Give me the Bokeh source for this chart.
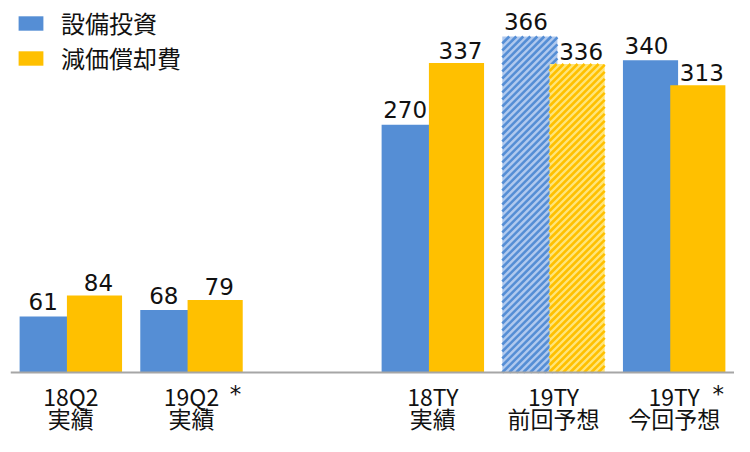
from bokeh.plotting import figure
from bokeh.models import ColumnDataSource, FactorRange, Range1d, Span, Legend, LegendItem
from bokeh.transform import dodge
from bokeh.core.properties import value
from bokeh.embed import file_html
from bokeh.resources import INLINE

# ---- data ----
slots = ["18Q2", "19Q2", "gap", "18TY", "19TY_prev", "19TY_now"]
categories = ["18Q2", "19Q2", "18TY", "19TY_prev", "19TY_now"]
capex = [61, 68, 270, 366, 340]
depreciation = [84, 79, 337, 336, 313]
label_top = ["18Q2", "19Q2", "18TY", "19TY", "19TY"]
label_bottom = ["実績", "実績", "実績", "前回予想", "今回予想"]
starred = [False, True, False, False, True]
previous_forecast = [False, False, False, True, False]
series_names = ["設備投資", "減価償却費"]

BLUE = "#558ED5"
BLUE_LIGHT = "#B0C9EE"
YELLOW = "#FFC000"
YELLOW_LIGHT = "#FFE57A"
TEXT = "#111111"
JP = value("Noto Sans CJK JP")

W_PX, H_PX, LEFT_PX = 734, 436, 10
Y_TOP, Y_BOT = 405.2, -69.7
OFF = 0.196
BW = 0.457

def subset(flag):
    idx = [i for i, f in enumerate(previous_forecast) if f == flag]
    return ColumnDataSource(dict(
        x=[categories[i] for i in idx],
        capex=[capex[i] for i in idx],
        dep=[depreciation[i] for i in idx],
    ))

solid_src = subset(False)
hatch_src = subset(True)
all_src = ColumnDataSource(dict(
    x=categories,
    capex=capex,
    dep=depreciation,
    capex_t=[str(v) for v in capex],
    dep_t=[str(v) for v in depreciation],
    top=label_top,
    bottom=label_bottom,
))
star_src = ColumnDataSource(dict(
    x=[c for c, s in zip(categories, starred) if s],
    t=["*" for s in starred if s],
))

p = figure(width=W_PX, height=H_PX,
           x_range=FactorRange(*slots), y_range=Range1d(Y_BOT, Y_TOP),
           output_backend="svg", toolbar_location=None,
           x_axis_location=None, y_axis_location=None,
           min_border_left=LEFT_PX, min_border_right=0, min_border_top=0, min_border_bottom=0)
p.grid.visible = False
p.outline_line_color = None

# pixel scales of the frame (for 45-degree stripe pattern)
XPX = (W_PX - LEFT_PX) / len(slots)
YPX = H_PX / (Y_TOP - Y_BOT)

def stripes(values, shift, period=7.0):
    x0, y0, x1, y1 = [], [], [], []
    for cat, v, f in zip(categories, values, previous_forecast):
        if not f:
            continue
        center = slots.index(cat) + 0.5 + shift
        left = center - BW / 2
        W = BW * XPX
        H = v * YPX
        c = -H
        while c < W:
            u0, u1 = max(0.0, c), min(W, H + c)
            if u1 > u0:
                x0.append(left + u0 / XPX); y0.append((u0 - c) / YPX)
                x1.append(left + u1 / XPX); y1.append((u1 - c) / YPX)
            c += period
    return dict(x0=x0, y0=y0, x1=x1, y1=y1)

b1 = p.vbar(x=dodge("x", -OFF, range=p.x_range), top="capex", width=BW, source=solid_src,
            fill_color=BLUE, line_color=None)
p.vbar(x=dodge("x", -OFF, range=p.x_range), top="capex", width=BW, source=hatch_src,
       fill_color=BLUE_LIGHT, line_color=None)
p.segment(x0="x0", y0="y0", x1="x1", y1="y1", source=ColumnDataSource(stripes(capex, -OFF)),
          line_color=BLUE, line_width=2.6, line_cap="butt")
b2 = p.vbar(x=dodge("x", OFF, range=p.x_range), top="dep", width=BW, source=solid_src,
            fill_color=YELLOW, line_color=None)
p.vbar(x=dodge("x", OFF, range=p.x_range), top="dep", width=BW, source=hatch_src,
       fill_color=YELLOW_LIGHT, line_color=None)
p.segment(x0="x0", y0="y0", x1="x1", y1="y1", source=ColumnDataSource(stripes(depreciation, OFF)),
          line_color=YELLOW, line_width=2.6, line_cap="butt")

p.add_layout(Span(location=0, dimension="width", line_color="#A6A6A6", line_width=2))

# value labels
p.text(x=dodge("x", -OFF, range=p.x_range), y="capex", text="capex_t", source=all_src,
       x_offset=-4, y_offset=-15, text_align="center", text_baseline="alphabetic",
       text_font=value("DejaVu Sans"), text_font_size="23px", text_color=TEXT)
p.text(x=dodge("x", OFF, range=p.x_range), y="dep", text="dep_t", source=all_src,
       x_offset=4, y_offset=-13, text_align="center", text_baseline="alphabetic",
       text_font=value("DejaVu Sans"), text_font_size="23px", text_color=TEXT)

# category labels
p.text(x="x", y=0, text="top", source=all_src, y_offset=23, text_align="center",
       text_baseline="middle", text_font=JP, text_font_size="23px", text_color=TEXT)
p.text(x="x", y=0, text="bottom", source=all_src, y_offset=45, text_align="center",
       text_baseline="middle", text_font=JP, text_font_size="23px", text_color=TEXT)
p.text(x="x", y=0, text="t", source=star_src, x_offset=44, y_offset=21, text_align="center",
       text_baseline="middle", text_font=value("DejaVu Sans"), text_font_size="23px",
       text_color=TEXT)

legend = Legend(items=[LegendItem(label=series_names[0], renderers=[b1]),
                       LegendItem(label=series_names[1], renderers=[b2])],
                location="top_left", orientation="vertical",
                glyph_width=31, glyph_height=18,
                label_text_font="Noto Sans CJK JP", label_text_font_size="24px",
                label_text_color=TEXT, label_standoff=15, spacing=0,
                padding=6, margin=5, border_line_color=None, background_fill_alpha=0)
p.add_layout(legend)

open("out.html", "w").write(file_html(p, INLINE))
